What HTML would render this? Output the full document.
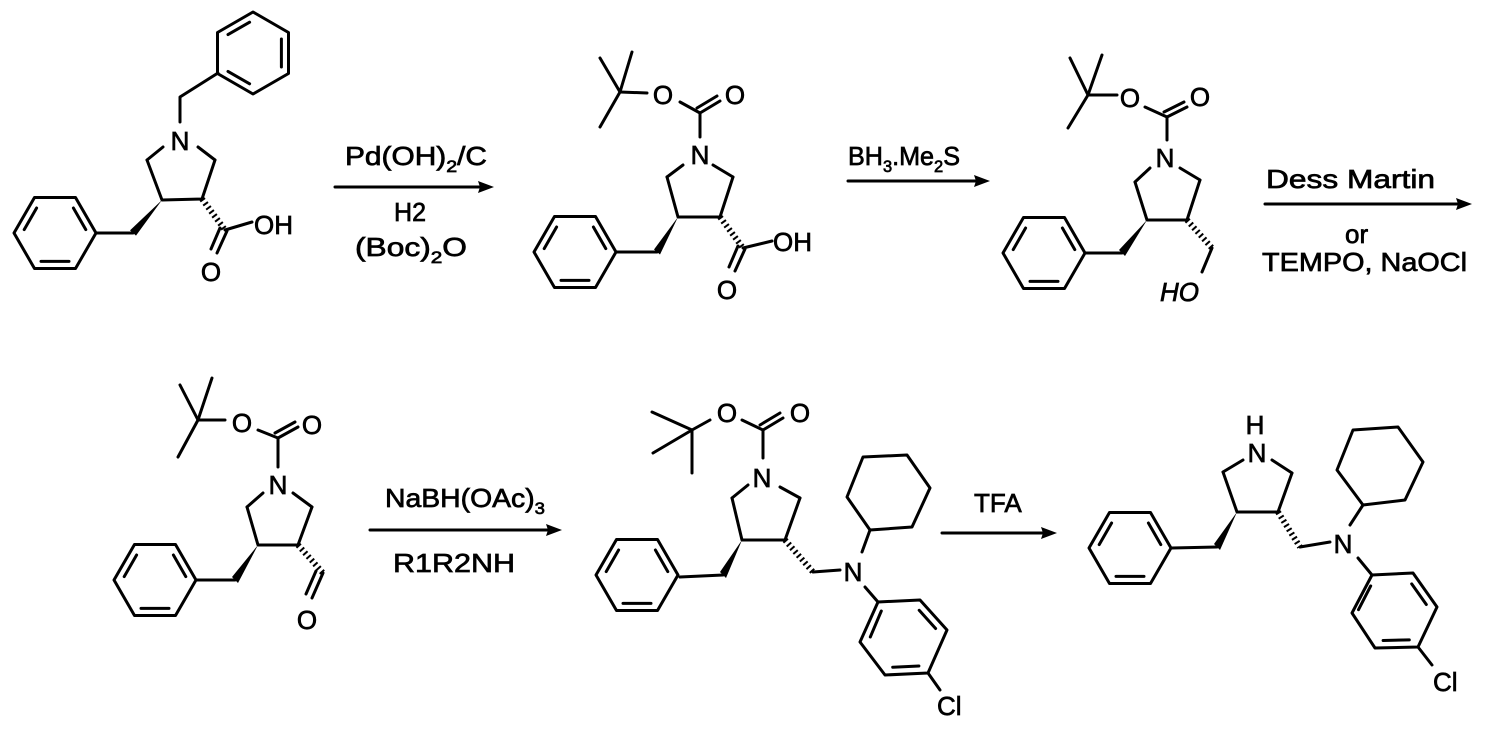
<!DOCTYPE html>
<html><head><meta charset="utf-8"><style>
html,body{margin:0;padding:0;background:#fff;}
svg{display:block;}
text{font-family:"Liberation Sans",Arial,sans-serif;fill:#000;stroke:#000;stroke-width:0.7;}
.a{font-size:26px;text-anchor:middle;}
.r{font-size:26px;}
.s{font-size:17px;}
</style></head><body>
<svg width="1502" height="731" viewBox="0 0 1502 731" xmlns="http://www.w3.org/2000/svg">
<defs>
<g id="bz" fill="none" stroke="#000" stroke-width="3" stroke-linejoin="round" stroke-linecap="round">
<polygon points="41,0 20.5,-35.5 -20.5,-35.5 -41,0 -20.5,35.5 20.5,35.5"/>
<line x1="18.4" y1="-25" x2="30.8" y2="-3.4"/>
<line x1="-18.4" y1="-25" x2="-30.8" y2="-3.4"/>
<line x1="-14" y1="28.4" x2="14" y2="28.4"/>
</g>
</defs>
<g fill="none" stroke="#000" stroke-width="3" stroke-linecap="round" stroke-linejoin="round">
<!-- M1 -->
<use href="#bz" transform="translate(253,53) rotate(-90)"/>
<use href="#bz" transform="translate(55,233)"/>
<polyline points="218,73 180,97 180,122"/>
<line x1="163" y1="147" x2="147" y2="160"/><line x1="198" y1="147" x2="215" y2="160"/>
<polyline points="147,160 162,200 202,199 215,160"/>
<line x1="133" y1="233" x2="97" y2="233"/>
<line x1="202" y1="199" x2="225" y2="230" stroke-width="6" stroke-dasharray="2 3" stroke-linecap="butt"/>
<line x1="225" y1="230" x2="252" y2="222"/>
<line x1="227" y1="231" x2="217" y2="253"/><line x1="220" y1="228" x2="211" y2="249"/>
<!-- M2 -->
<use href="#bz" transform="translate(575,252)"/>
<line x1="620" y1="92" x2="600" y2="58"/><line x1="620" y1="92" x2="632" y2="52"/><line x1="620" y1="92" x2="600" y2="127"/>
<line x1="620" y1="92" x2="647" y2="93"/>
<line x1="680" y1="102" x2="700" y2="113"/>
<line x1="700" y1="113" x2="720" y2="101"/><line x1="697" y1="108" x2="717" y2="96"/>
<line x1="700" y1="113" x2="700" y2="137"/>
<line x1="683" y1="165" x2="667" y2="177"/><line x1="713" y1="165" x2="733" y2="177"/>
<polyline points="667,177 678,217 720,217 733,177"/>
<line x1="657" y1="252" x2="617" y2="252"/>
<line x1="720" y1="217" x2="743" y2="248" stroke-width="6" stroke-dasharray="2 3" stroke-linecap="butt"/>
<line x1="743" y1="248" x2="772" y2="241"/>
<line x1="745" y1="249" x2="735" y2="271"/><line x1="738" y1="246" x2="729" y2="267"/>
<!-- M3 -->
<use href="#bz" transform="translate(1044,253)"/>
<line x1="1088" y1="95" x2="1070" y2="58"/><line x1="1088" y1="95" x2="1102" y2="55"/><line x1="1088" y1="95" x2="1068" y2="128"/>
<line x1="1088" y1="95" x2="1117" y2="95"/>
<line x1="1145" y1="107" x2="1167" y2="117"/>
<line x1="1167" y1="117" x2="1187" y2="107"/><line x1="1164" y1="112" x2="1184" y2="102"/>
<line x1="1167" y1="117" x2="1167" y2="140"/>
<line x1="1150" y1="168" x2="1135" y2="182"/><line x1="1180" y1="168" x2="1200" y2="180"/>
<polyline points="1135,182 1147,220 1187,220 1200,180"/>
<line x1="1122" y1="253" x2="1085" y2="253"/>
<line x1="1187" y1="220" x2="1212" y2="248" stroke-width="6" stroke-dasharray="2 3" stroke-linecap="butt"/>
<line x1="1212" y1="248" x2="1202" y2="272"/>
<!-- M4 -->
<use href="#bz" transform="translate(155,580)"/>
<line x1="198" y1="420" x2="180" y2="385"/><line x1="198" y1="420" x2="212" y2="378"/><line x1="198" y1="420" x2="178" y2="457"/>
<line x1="198" y1="420" x2="225" y2="420"/>
<line x1="258" y1="430" x2="278" y2="438"/>
<line x1="278" y1="438" x2="298" y2="427"/><line x1="275" y1="433" x2="295" y2="422"/>
<line x1="278" y1="438" x2="278" y2="467"/>
<line x1="263" y1="493" x2="247" y2="507"/><line x1="293" y1="493" x2="312" y2="507"/>
<polyline points="247,507 258,545 298,545 312,507"/>
<line x1="235" y1="580" x2="197" y2="580"/>
<line x1="298" y1="545" x2="323" y2="573" stroke-width="6" stroke-dasharray="2 3" stroke-linecap="butt"/>
<line x1="323" y1="573" x2="312" y2="598"/><line x1="316" y1="571" x2="306" y2="594"/>
<!-- M5 -->
<use href="#bz" transform="translate(637,575)"/>
<line x1="692" y1="430" x2="652" y2="412"/><line x1="692" y1="430" x2="653" y2="453"/><line x1="692" y1="430" x2="692" y2="473"/>
<line x1="692" y1="430" x2="710" y2="420"/>
<line x1="742" y1="420" x2="763" y2="430"/>
<line x1="763" y1="430" x2="783" y2="418"/><line x1="760" y1="425" x2="780" y2="413"/>
<line x1="763" y1="430" x2="763" y2="458"/>
<line x1="748" y1="485" x2="732" y2="498"/><line x1="780" y1="487" x2="800" y2="498"/>
<polyline points="732,498 742,540 785,540 800,498"/>
<line x1="723" y1="575" x2="680" y2="577"/>
<line x1="785" y1="540" x2="813" y2="572" stroke-width="6" stroke-dasharray="2 3" stroke-linecap="butt"/>
<line x1="813" y1="572" x2="840" y2="570"/>
<line x1="862" y1="552" x2="870" y2="530"/>
<polygon points="870,530 847,497 863,457 907,455 930,488 912,527"/>
<line x1="865" y1="587" x2="878" y2="602"/>
<polygon points="878,602 920,600 947,630 928,673 885,675 860,642"/>
<line x1="870.3" y1="637" x2="881.3" y2="611"/><line x1="919.2" y1="610.3" x2="935.6" y2="628.5"/><line x1="918.9" y1="666" x2="892.7" y2="667.2"/>
<line x1="928" y1="673" x2="940" y2="690"/>
<!-- M6 -->
<use href="#bz" transform="translate(1130,548)"/>
<line x1="1243" y1="460" x2="1223" y2="472"/><line x1="1272" y1="460" x2="1292" y2="473"/>
<polyline points="1223,472 1237,512 1278,512 1292,473"/>
<line x1="1217" y1="547" x2="1172" y2="548"/>
<line x1="1278" y1="512" x2="1300" y2="547" stroke-width="6" stroke-dasharray="2 3" stroke-linecap="butt"/>
<line x1="1300" y1="547" x2="1330" y2="542"/>
<line x1="1350" y1="525" x2="1363" y2="505"/>
<polygon points="1363,505 1337,470 1353,430 1398,427 1423,462 1405,500"/>
<line x1="1358" y1="558" x2="1372" y2="575"/>
<polygon points="1372,575 1413,573 1437,607 1418,647 1375,648 1352,613"/>
<line x1="1358.5" y1="609.7" x2="1370.7" y2="585.9"/><line x1="1411.7" y1="583.9" x2="1426.3" y2="604.5"/><line x1="1409.3" y1="639.9" x2="1383.1" y2="640.5"/>
<line x1="1418" y1="647" x2="1432" y2="665"/>
<!-- arrows -->
<line x1="335" y1="187" x2="482" y2="187"/>
<line x1="848" y1="181" x2="978" y2="181"/>
<line x1="1265" y1="204" x2="1460" y2="204"/>
<line x1="370" y1="530" x2="550" y2="530"/>
<line x1="942" y1="533" x2="1045" y2="533"/>
</g>
<g fill="#000">
<polygon points="162,200 136,235.6 130,230.4"/>
<polygon points="678,217 660,254.5 654,249.5"/>
<polygon points="1147,220 1125,256 1119,250"/>
<polygon points="258,545 238,583 232,577"/>
<polygon points="742,540 726,578 720,572"/>
<polygon points="1237,512 1220,550 1214,544"/>
<polygon points="494,187 478,181 480,187 478,193"/>
<polygon points="990,181 974,175 976,181 974,187"/>
<polygon points="1472,204 1456,198 1458,204 1456,210"/>
<polygon points="562,530 546,524 548,530 546,536"/>
<polygon points="1057,533 1041,527 1043,533 1041,539"/>
</g>
<!-- atom labels -->
<text class="a" x="180" y="150">N</text>
<text class="r" x="254" y="234">OH</text>
<text class="a" x="211" y="281">O</text>
<text class="a" x="663" y="104">O</text>
<text class="a" x="735" y="104">O</text>
<text class="a" x="700" y="164">N</text>
<text class="r" x="773" y="251">OH</text>
<text class="a" x="727" y="299">O</text>
<text class="a" x="1130" y="107">O</text>
<text class="a" x="1200" y="106">O</text>
<text class="a" x="1165" y="167">N</text>
<text class="r" x="1160" y="301" font-style="italic">HO</text>
<text class="a" x="242" y="432">O</text>
<text class="a" x="312" y="434">O</text>
<text class="a" x="278" y="494">N</text>
<text class="a" x="307" y="629">O</text>
<text class="a" x="727" y="422">O</text>
<text class="a" x="800" y="422">O</text>
<text class="a" x="762" y="487">N</text>
<text class="a" x="853" y="581">N</text>
<text class="r" x="937" y="715">Cl</text>
<text class="a" x="1255" y="434" font-size="22">H</text>
<text class="a" x="1257" y="462">N</text>
<text class="a" x="1343" y="553">N</text>
<text class="r" x="1433" y="691">Cl</text>
<!-- reagents -->
<text class="r" x="345" y="165" textLength="142" lengthAdjust="spacingAndGlyphs">Pd(OH)<tspan class="s" dy="7">2</tspan><tspan dy="-7">/C</tspan></text>
<text class="r" x="394" y="221" textLength="32" lengthAdjust="spacingAndGlyphs">H2</text>
<text class="r" x="355" y="256" textLength="112" lengthAdjust="spacingAndGlyphs">(Boc)<tspan class="s" dy="7">2</tspan><tspan dy="-7">O</tspan></text>
<text class="r" x="848" y="165" textLength="112" lengthAdjust="spacingAndGlyphs">BH<tspan class="s" dy="7">3</tspan><tspan dy="-7">.Me</tspan><tspan class="s" dy="7">2</tspan><tspan dy="-7">S</tspan></text>
<text class="r" x="1266" y="188" textLength="169" lengthAdjust="spacingAndGlyphs">Dess Martin</text>
<text class="r" x="1345" y="243">or</text>
<text class="r" x="1262" y="271" textLength="205" lengthAdjust="spacingAndGlyphs">TEMPO, NaOCl</text>
<text class="r" x="385" y="507" textLength="160" lengthAdjust="spacingAndGlyphs">NaBH(OAc)<tspan class="s" dy="7">3</tspan></text>
<text class="r" x="393" y="572" textLength="122" lengthAdjust="spacingAndGlyphs">R1R2NH</text>
<text class="r" x="974" y="512">TFA</text>
</svg>
</body></html>
